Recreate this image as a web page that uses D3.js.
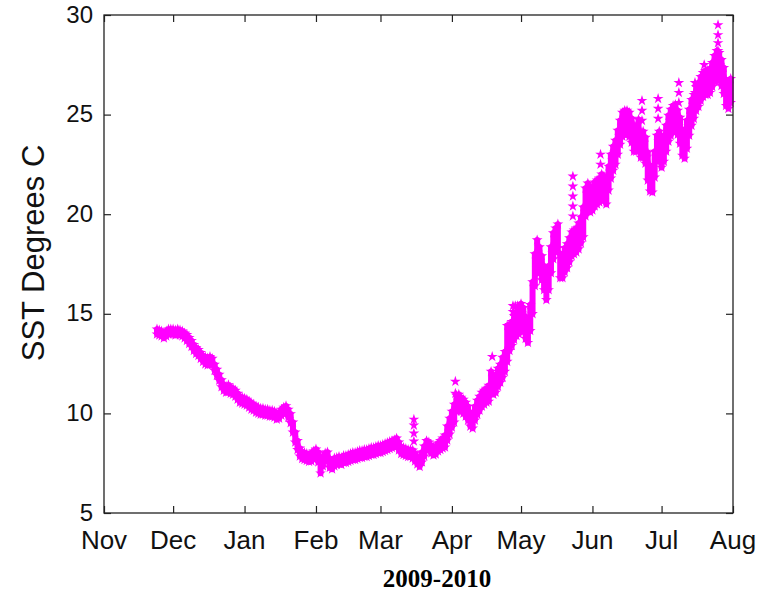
<!DOCTYPE html>
<html><head><meta charset="utf-8">
<script src="https://cdn.jsdelivr.net/npm/d3@7"></script>
<style>body{margin:0;background:#fff}svg{display:block}</style>
</head><body>
<svg id="c" width="765" height="593"></svg>
<script>
// ---- data ----
const firstDay = "2009-11-24";           // date of the first daily value
// daily mean SST (deg C), one per day from firstDay
const dailyMean = [
 14.1,14.05,14.0,13.9,14.0,14.1,14.1,14.1,14.05,14.1,
 14.05,14.0,13.9,13.8,13.65,13.5,13.3,13.15,13.05,12.9,
 12.75,12.65,12.6,12.65,12.6,12.3,12.05,11.8,11.5,11.3,
 11.2,11.25,11.15,11.1,11.0,10.85,10.7,10.65,10.6,10.55,
 10.45,10.35,10.3,10.2,10.15,10.1,10.1,10.05,10.05,10.0,
 10.0,9.95,9.85,9.9,10.05,10.15,10.2,10.0,9.75,9.3,
 8.8,8.4,8.05,7.9,7.85,7.8,7.75,7.8,7.9,8.0,
 7.8,7.4,7.6,7.8,7.85,7.5,7.4,7.55,7.6,7.65,
 7.6,7.7,7.7,7.75,7.8,7.85,7.85,7.9,7.95,7.95,
 8.0,8.0,8.05,8.1,8.1,8.15,8.2,8.2,8.25,8.3,
 8.35,8.4,8.45,8.5,8.55,8.35,8.15,8.1,8.05,8.0,
 8.0,7.95,7.8,7.65,7.55,7.8,8.1,8.4,8.35,8.2,
 8.1,8.15,8.3,8.4,8.5,8.6,9.0,9.35,9.7,10.0,
 10.5,10.6,10.45,10.35,10.2,10.0,9.7,9.6,10.0,10.3,
 10.5,10.7,10.8,10.9,11.0,11.6,11.4,11.5,11.8,12.0,
 12.3,12.6,13.5,13.8,14.0,14.3,14.5,14.6,14.9,14.7,
 14.3,14.1,14.8,15.8,17.2,18.0,17.7,17.3,16.8,16.3,
 16.8,17.7,18.4,18.7,18.9,17.4,17.4,17.7,17.9,18.2,
 18.5,18.6,18.7,18.9,19.2,19.6,20.6,20.9,20.7,20.8,
 21.0,21.1,21.2,21.4,21.3,21.1,21.8,22.4,22.8,23.1,
 23.6,24.1,24.5,24.6,24.6,24.5,24.2,23.8,23.8,24.1,
 23.5,23.5,23.2,22.4,21.8,21.7,22.5,23.3,23.5,23.0,
 23.3,23.8,24.3,24.6,24.8,24.9,24.6,24.2,23.6,23.4,
 24.0,24.6,25.1,25.4,25.8,26.0,26.3,26.5,26.6,26.6,
 26.7,27.0,27.3,27.5,27.4,27.1,26.7,26.1,25.9,26.2
];
// daily spread of the readings (max - min, deg C)
const dailyRange = [
 0.25,0.25,0.25,0.25,0.25,0.25,0.25,0.25,0.25,0.25,
 0.25,0.25,0.25,0.3,0.3,0.3,0.3,0.3,0.3,0.3,
 0.3,0.35,0.35,0.4,0.3,0.3,0.3,0.3,0.35,0.3,
 0.3,0.35,0.3,0.3,0.3,0.3,0.3,0.3,0.3,0.3,
 0.3,0.3,0.3,0.3,0.3,0.3,0.3,0.3,0.3,0.3,
 0.3,0.3,0.3,0.3,0.3,0.3,0.35,0.4,0.45,0.5,
 0.5,0.45,0.4,0.35,0.35,0.35,0.35,0.4,0.4,0.4,
 0.5,0.8,0.5,0.4,0.4,0.45,0.4,0.4,0.35,0.35,
 0.35,0.35,0.35,0.35,0.35,0.35,0.35,0.35,0.35,0.35,
 0.35,0.35,0.35,0.35,0.35,0.35,0.35,0.35,0.35,0.35,
 0.35,0.35,0.35,0.35,0.4,0.4,0.35,0.35,0.35,0.35,
 0.35,0.4,0.4,0.4,0.45,0.5,0.5,0.45,0.4,0.4,
 0.4,0.4,0.4,0.45,0.5,0.6,0.7,0.8,0.8,0.9,
 0.8,0.7,0.7,0.7,0.7,0.7,0.7,0.7,0.7,0.7,
 0.7,0.7,0.7,0.7,0.8,1.0,0.9,0.9,0.9,0.9,
 1.0,1.0,1.8,1.3,1.2,1.2,1.2,1.2,1.2,1.2,
 1.1,1.1,1.3,1.6,1.6,1.4,1.3,1.2,1.2,1.2,
 1.2,1.3,1.3,1.2,1.2,1.2,1.2,1.2,1.2,1.2,
 1.2,1.2,1.2,1.3,1.3,1.5,1.4,1.3,1.2,1.2,
 1.2,1.2,1.2,1.2,1.2,1.2,1.2,1.2,1.2,1.2,
 1.2,1.2,1.2,1.2,1.2,1.2,1.2,1.3,1.3,1.3,
 1.3,1.3,1.3,1.4,1.3,1.2,1.3,1.3,1.3,1.3,
 1.3,1.3,1.3,1.3,1.3,1.2,1.2,1.3,1.3,1.2,
 1.4,1.3,1.3,1.2,1.2,1.2,1.2,1.2,1.2,1.2,
 1.2,1.2,1.3,1.4,1.4,1.3,1.3,1.3,1.2,1.2
];
// isolated outlying readings
const spikeDates = [
 "2010-03-15","2010-03-15","2010-03-15","2010-03-15",
 "2010-04-02","2010-04-02","2010-04-18",
 "2010-04-27","2010-04-27","2010-04-28","2010-04-29","2010-04-29",
 "2010-05-23","2010-05-23","2010-05-23","2010-05-23","2010-05-23",
 "2010-06-04","2010-06-04","2010-06-10",
 "2010-06-22","2010-06-22","2010-06-22",
 "2010-06-29","2010-06-29","2010-06-29",
 "2010-07-08","2010-07-08","2010-07-08",
 "2010-07-15","2010-07-15","2010-07-15",
 "2010-07-19",
 "2010-07-25","2010-07-25","2010-07-25","2010-07-25"
];
const spikeValues = [
 8.6,9.0,9.4,9.7,
 11.0,11.6,12.85,
 15.1,15.4,15.4,15.1,15.4,
 19.9,20.4,20.9,21.4,21.9,
 22.5,23.0,23.1,
 24.7,25.2,25.7,
 24.8,25.3,25.8,
 25.6,26.1,26.6,
 25.7,26.1,26.6,
 27.5,
 28.2,28.6,29.0,29.5
];
const monthTicks = ["2009-11-01","2009-12-01","2010-01-01","2010-02-01","2010-03-01",
  "2010-04-01","2010-05-01","2010-06-01","2010-07-01","2010-08-01"];
const yTicks = [5,10,15,20,25,30];
const yLabel = "SST Degrees C";
const xLabel = "2009-2010";

// ---- drawing ----
const parse = d3.utcParse("%Y-%m-%d");
const svg = d3.select("#c");
const L = 104, R = 733, T = 15, B = 513;
const x = d3.scaleUtc().domain([parse(monthTicks[0]), parse(monthTicks[monthTicks.length-1])]).range([L, R]);
const y = d3.scaleLinear().domain([5, 30]).range([B, T]);
const MAG = "#ff00ff";
const sansFont = "'Liberation Sans', Arial, Helvetica, sans-serif";

const start = parse(firstDay);
const days = dailyMean.map((m, i) => ({
  date: d3.utcDay.offset(start, i), mean: m, lo: m - dailyRange[i] / 2, hi: m + dailyRange[i] / 2
}));

const plot = svg.append("g");
plot.selectAll("line.band").data(days).join("line")
  .attr("class", "band")
  .attr("x1", d => x(d.date)).attr("x2", d => x(d.date))
  .attr("y1", d => y(d.lo)).attr("y2", d => y(d.hi))
  .attr("stroke", MAG).attr("stroke-width", 6).attr("stroke-linecap", "round");

const star = d3.symbol().type(d3.symbolStar).size(36);
const pts = [];
days.forEach(d => { pts.push({date: d.date, v: d.lo}); pts.push({date: d.date, v: d.hi}); });
spikeDates.forEach((s, i) => pts.push({date: d3.utcHour.offset(parse(s), 12), v: spikeValues[i]}));
plot.selectAll("path.pt").data(pts).join("path")
  .attr("class", "pt")
  .attr("transform", d => `translate(${x(d.date)},${y(d.v)})`)
  .attr("d", star).attr("fill", MAG);

// axes (ticks inward on all four sides)
const monthDates = monthTicks.map(parse);
const axStyle = g => { g.select(".domain").remove(); g.selectAll("line").attr("stroke", "#222").attr("stroke-width", 1.2); g.selectAll("text").remove(); };
svg.append("g").attr("transform", `translate(0,${B})`).call(d3.axisBottom(x).tickValues(monthDates).tickSize(-7)).call(axStyle);
svg.append("g").attr("transform", `translate(0,${T})`).call(d3.axisTop(x).tickValues(monthDates).tickSize(-7)).call(axStyle);
svg.append("g").attr("transform", `translate(${L},0)`).call(d3.axisLeft(y).tickValues(yTicks).tickSize(-7)).call(axStyle);
svg.append("g").attr("transform", `translate(${R},0)`).call(d3.axisRight(y).tickValues(yTicks).tickSize(-7)).call(axStyle);
svg.append("rect").attr("x", L).attr("y", T).attr("width", R - L).attr("height", B - T)
  .attr("fill", "none").attr("stroke", "#222").attr("stroke-width", 1.3);

// tick labels
svg.append("g").selectAll("text").data(monthDates).join("text")
  .attr("x", d => x(d)).attr("y", 549).attr("text-anchor", "middle")
  .attr("font-family", sansFont).attr("font-size", 26).attr("fill", "#111")
  .text(d3.utcFormat("%b"));
svg.append("g").selectAll("text").data(yTicks).join("text")
  .attr("x", 93).attr("y", d => y(d)).attr("dy", "0.32em").attr("text-anchor", "end")
  .attr("font-family", sansFont).attr("font-size", 24).attr("fill", "#111")
  .text(d => d);

// axis titles
svg.append("text").attr("transform", "translate(44,253) rotate(-90)")
  .attr("text-anchor", "middle").attr("font-family", sansFont).attr("font-size", 31).attr("fill", "#111")
  .text(yLabel);
svg.append("text").attr("x", 437).attr("y", 587).attr("text-anchor", "middle")
  .attr("font-family", "'Liberation Serif', 'Times New Roman', serif").attr("font-weight", "bold")
  .attr("font-size", 25).attr("fill", "#000").text(xLabel);
</script>
</body></html>
